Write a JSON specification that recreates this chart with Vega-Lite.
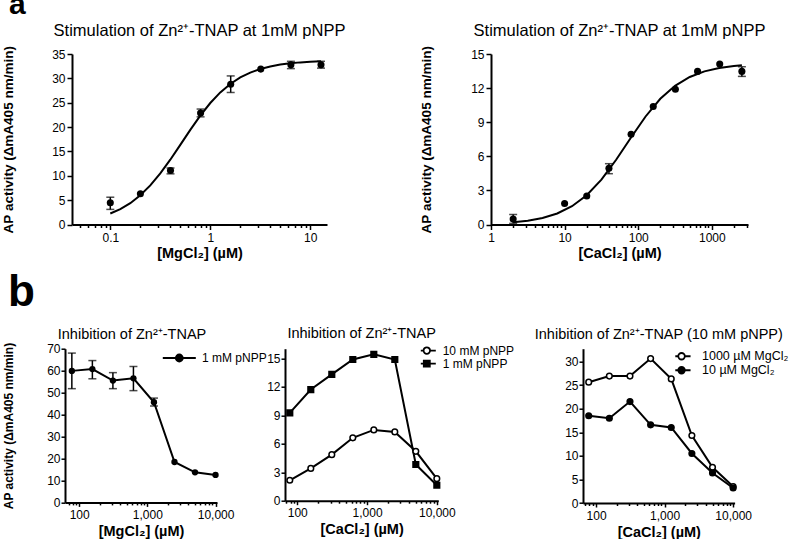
{
  "$schema": "https://vega.github.io/schema/vega-lite/v6.json",
  "background": "white",
  "padding": {"left": 0, "top": -10, "right": 0, "bottom": 0},
  "config": {
    "font": "Liberation Sans",
    "view": {"stroke": null},
    "axis": {"domainColor": "black", "domainWidth": 2, "tickColor": "black", "tickWidth": 1.5, "tickSize": 5, "labelColor": "black", "labelFontSize": 12, "labelPadding": 2, "titleColor": "black", "titleFontSize": 14.5, "titleFontWeight": "bold", "grid": false, "labelFlush": false, "labelOverlap": false},
    "title": {"color": "black", "fontWeight": "normal"},
    "legend": {"labelColor": "black", "labelFontSize": 12}
  },
  "datasets": {
    "a1curve": [
      {"x": 0.1, "y": 2.25}, {"x": 0.1259, "y": 3.16}, {"x": 0.1585, "y": 4.38}, {"x": 0.1995, "y": 5.99},
      {"x": 0.2512, "y": 8.02}, {"x": 0.3162, "y": 10.48}, {"x": 0.3981, "y": 13.3}, {"x": 0.5012, "y": 16.35},
      {"x": 0.631, "y": 19.43}, {"x": 0.7943, "y": 22.35}, {"x": 1, "y": 24.94}, {"x": 1.259, "y": 27.11},
      {"x": 1.585, "y": 28.85}, {"x": 1.995, "y": 30.19}, {"x": 2.512, "y": 31.19}, {"x": 3.162, "y": 31.92},
      {"x": 3.981, "y": 32.45}, {"x": 5.012, "y": 32.83}, {"x": 6.31, "y": 33.09}, {"x": 7.943, "y": 33.28},
      {"x": 10, "y": 33.41}, {"x": 12.8, "y": 33.52}
    ],
    "a1pts": [
      {"x": 0.1, "y": 4.45}, {"x": 0.2, "y": 6.3}, {"x": 0.4, "y": 11.1}, {"x": 0.8, "y": 22.9},
      {"x": 1.6, "y": 28.8}, {"x": 3.2, "y": 31.9}, {"x": 6.4, "y": 32.8}, {"x": 12.8, "y": 32.8}
    ],
    "a1err": [
      {"x": 0.1, "lo": 3.1, "hi": 5.6}, {"x": 0.4, "lo": 10.4, "hi": 11.6}, {"x": 0.8, "lo": 22.1, "hi": 23.7},
      {"x": 1.6, "lo": 27.1, "hi": 30.5}, {"x": 6.4, "lo": 32.0, "hi": 33.5}, {"x": 12.8, "lo": 32.1, "hi": 33.5}
    ],
    "a2curve": [
      {"x": 2, "y": 0.196}, {"x": 3.162, "y": 0.337}, {"x": 5.012, "y": 0.576}, {"x": 7.943, "y": 0.972},
      {"x": 12.59, "y": 1.608}, {"x": 19.95, "y": 2.578}, {"x": 31.62, "y": 3.951}, {"x": 50.12, "y": 5.696},
      {"x": 79.43, "y": 7.638}, {"x": 125.9, "y": 9.503}, {"x": 199.5, "y": 11.06}, {"x": 316.2, "y": 12.2},
      {"x": 501.2, "y": 12.98}, {"x": 794.3, "y": 13.47}, {"x": 1259, "y": 13.77}, {"x": 1995, "y": 13.95},
      {"x": 2560, "y": 14.01}
    ],
    "a2pts": [
      {"x": 2, "y": 0.49}, {"x": 10, "y": 1.85}, {"x": 20, "y": 2.5}, {"x": 40, "y": 4.94}, {"x": 80, "y": 7.94},
      {"x": 160, "y": 10.38}, {"x": 320, "y": 11.9}, {"x": 640, "y": 13.47}, {"x": 1280, "y": 14.12}, {"x": 2560, "y": 13.47}
    ],
    "a2err": [
      {"x": 2, "lo": 0.1, "hi": 0.88}, {"x": 40, "lo": 4.47, "hi": 5.35}, {"x": 2560, "lo": 13.03, "hi": 13.88}
    ],
    "b1": [
      {"x": 78.125, "y": 59.9, "series": "1 mM pNPP"}, {"x": 156.25, "y": 60.7, "series": "1 mM pNPP"},
      {"x": 312.5, "y": 55.5, "series": "1 mM pNPP"}, {"x": 625, "y": 56.5, "series": "1 mM pNPP"},
      {"x": 1250, "y": 45.6, "series": "1 mM pNPP"}, {"x": 2500, "y": 18.4, "series": "1 mM pNPP"},
      {"x": 5000, "y": 13.7, "series": "1 mM pNPP"}, {"x": 10000, "y": 12.5, "series": "1 mM pNPP"}
    ],
    "b1err": [
      {"x": 78.125, "lo": 51.8, "hi": 68.0}, {"x": 156.25, "lo": 56.3, "hi": 64.6}, {"x": 312.5, "lo": 51.8, "hi": 59.1},
      {"x": 625, "lo": 50.9, "hi": 61.9}, {"x": 1250, "lo": 43.9, "hi": 47.5}
    ],
    "b2": [
      {"x": 78.125, "y": 2.15, "series": "10 mM pNPP"}, {"x": 156.25, "y": 3.4, "series": "10 mM pNPP"},
      {"x": 312.5, "y": 4.85, "series": "10 mM pNPP"}, {"x": 625, "y": 6.62, "series": "10 mM pNPP"},
      {"x": 1250, "y": 7.45, "series": "10 mM pNPP"}, {"x": 2500, "y": 7.24, "series": "10 mM pNPP"},
      {"x": 5000, "y": 5.2, "series": "10 mM pNPP"}, {"x": 10000, "y": 2.32, "series": "10 mM pNPP"},
      {"x": 78.125, "y": 9.25, "series": "1 mM pNPP"}, {"x": 156.25, "y": 11.7, "series": "1 mM pNPP"},
      {"x": 312.5, "y": 13.3, "series": "1 mM pNPP"}, {"x": 625, "y": 14.86, "series": "1 mM pNPP"},
      {"x": 1250, "y": 15.4, "series": "1 mM pNPP"}, {"x": 2500, "y": 14.86, "series": "1 mM pNPP"},
      {"x": 5000, "y": 3.81, "series": "1 mM pNPP"}, {"x": 10000, "y": 1.63, "series": "1 mM pNPP"}
    ],
    "b3": [
      {"x": 78.125, "y": 25.6, "series": "1000 µM MgCl₂"}, {"x": 156.25, "y": 26.9, "series": "1000 µM MgCl₂"},
      {"x": 312.5, "y": 26.9, "series": "1000 µM MgCl₂"}, {"x": 625, "y": 30.6, "series": "1000 µM MgCl₂"},
      {"x": 1250, "y": 26.3, "series": "1000 µM MgCl₂"}, {"x": 2500, "y": 14.3, "series": "1000 µM MgCl₂"},
      {"x": 5000, "y": 7.56, "series": "1000 µM MgCl₂"}, {"x": 10000, "y": 3.5, "series": "1000 µM MgCl₂"},
      {"x": 78.125, "y": 18.5, "series": "10 µM MgCl₂"}, {"x": 156.25, "y": 17.96, "series": "10 µM MgCl₂"},
      {"x": 312.5, "y": 21.5, "series": "10 µM MgCl₂"}, {"x": 625, "y": 16.56, "series": "10 µM MgCl₂"},
      {"x": 1250, "y": 16.0, "series": "10 µM MgCl₂"}, {"x": 2500, "y": 10.5, "series": "10 µM MgCl₂"},
      {"x": 5000, "y": 6.37, "series": "10 µM MgCl₂"}, {"x": 10000, "y": 3.18, "series": "10 µM MgCl₂"}
    ]
  },
  "bounds": "flush",
  "spacing": 294.7,
  "resolve": {"scale": {"shape": "independent", "fill": "independent"}, "legend": {"shape": "independent", "fill": "independent"}},
  "vconcat": [
    {
      "bounds": "flush",
      "spacing": 0,
      "resolve": {"scale": {"shape": "independent", "fill": "independent"}, "legend": {"shape": "independent", "fill": "independent"}},
      "hconcat": [
        {
          "width": 71.7, "height": 170.5,
          "data": {"values": []}, "mark": "point",
          "title": {"text": "a", "anchor": "start", "frame": "group", "baseline": "alphabetic", "offset": 9.6, "dx": 9, "fontSize": 30, "fontWeight": "bold"}
        },
        {
          "width": 255, "height": 170.5,
          "title": {"text": "Stimulation of Zn²⁺-TNAP at 1mM pNPP", "frame": "group", "anchor": "middle", "baseline": "alphabetic", "offset": -7, "fontSize": 16.5},
          "resolve": {"axis": {"x": "independent"}},
          "layer": [
            {
              "data": {"name": "a1curve"},
              "mark": {"type": "line", "color": "black", "strokeWidth": 2},
              "encoding": {
                "x": {"field": "x", "type": "quantitative", "scale": {"type": "log", "domain": [0.0414, 14.7], "nice": false},
                      "axis": {"values": [0.1, 1, 10], "format": "~g", "title": "[MgCl₂] (µM)", "titlePadding": 3, "labelPadding": 3}},
                "y": {"field": "y", "type": "quantitative", "scale": {"domain": [0, 35], "nice": false, "zero": false},
                      "axis": {"values": [0, 5, 10, 15, 20, 25, 30, 35], "title": "AP activity (ΔmA405 nm/min)", "titleFontSize": 13.5, "titlePadding": 36, "labelOverlap": false}}
              }
            },
            {
              "data": {"name": "a1err"},
              "mark": {"type": "errorbar", "ticks": {"size": 8, "thickness": 1.5, "color": "black"}, "rule": {"strokeWidth": 1.5, "color": "black"}},
              "encoding": {
                "x": {"field": "x", "type": "quantitative", "axis": null},
                "y": {"field": "lo", "type": "quantitative", "title": "AP activity (ΔmA405 nm/min)",
                      "axis": {"values": [0, 5, 10, 15, 20, 25, 30, 35], "title": "AP activity (ΔmA405 nm/min)", "titleFontSize": 13.5, "titlePadding": 36, "labelOverlap": false}},
                "y2": {"field": "hi"}
              }
            },
            {
              "data": {"name": "a1pts"},
              "mark": {"type": "point", "filled": true, "color": "black", "size": 50, "opacity": 1},
              "encoding": {
                "x": {"field": "x", "type": "quantitative",
                      "axis": {"orient": "bottom", "values": [0.05, 0.06, 0.07, 0.08, 0.09, 0.2, 0.3, 0.4, 0.5, 0.6, 0.7, 0.8, 0.9, 2, 3, 4, 5, 6, 7, 8, 9], "labels": false, "domain": false, "tickSize": 3, "title": null}},
                "y": {"field": "y", "type": "quantitative",
                      "axis": {"values": [0, 5, 10, 15, 20, 25, 30, 35], "title": "AP activity (ΔmA405 nm/min)", "titleFontSize": 13.5, "titlePadding": 36, "labelOverlap": false}}
              }
            }
          ]
        },
        {"width": 164, "height": 170.5, "data": {"values": []}, "mark": "point"},
        {
          "width": 257, "height": 170.5,
          "title": {"text": "Stimulation of Zn²⁺-TNAP at 1mM pNPP", "frame": "group", "anchor": "middle", "baseline": "alphabetic", "offset": -7, "fontSize": 16.5},
          "resolve": {"axis": {"x": "independent"}},
          "layer": [
            {
              "data": {"name": "a2curve"},
              "mark": {"type": "line", "color": "black", "strokeWidth": 2},
              "encoding": {
                "x": {"field": "x", "type": "quantitative", "scale": {"type": "log", "domain": [1, 3100], "nice": false},
                      "axis": {"values": [1, 10, 100, 1000], "format": "~g", "title": "[CaCl₂] (µM)", "titlePadding": 3, "labelPadding": 3}},
                "y": {"field": "y", "type": "quantitative", "scale": {"domain": [0, 15], "nice": false, "zero": false},
                      "axis": {"values": [0, 3, 6, 9, 12, 15], "title": "AP activity (ΔmA405 nm/min)", "titleFontSize": 13.5, "titlePadding": 37, "labelOverlap": false}}
              }
            },
            {
              "data": {"name": "a2err"},
              "mark": {"type": "errorbar", "ticks": {"size": 8, "thickness": 1.5, "color": "black"}, "rule": {"strokeWidth": 1.5, "color": "black"}},
              "encoding": {
                "x": {"field": "x", "type": "quantitative", "axis": null},
                "y": {"field": "lo", "type": "quantitative", "title": "AP activity (ΔmA405 nm/min)",
                      "axis": {"values": [0, 3, 6, 9, 12, 15], "title": "AP activity (ΔmA405 nm/min)", "titleFontSize": 13.5, "titlePadding": 37, "labelOverlap": false}},
                "y2": {"field": "hi"}
              }
            },
            {
              "data": {"name": "a2pts"},
              "mark": {"type": "point", "filled": true, "color": "black", "size": 50, "opacity": 1},
              "encoding": {
                "x": {"field": "x", "type": "quantitative",
                      "axis": {"orient": "bottom", "values": [2, 3, 4, 5, 6, 7, 8, 9, 20, 30, 40, 50, 60, 70, 80, 90, 200, 300, 400, 500, 600, 700, 800, 900, 2000, 3000], "labels": false, "domain": false, "tickSize": 3, "title": null}},
                "y": {"field": "y", "type": "quantitative",
                      "axis": {"values": [0, 3, 6, 9, 12, 15], "title": "AP activity (ΔmA405 nm/min)", "titleFontSize": 13.5, "titlePadding": 37, "labelOverlap": false}}
              }
            }
          ]
        }
      ]
    },
    {
      "bounds": "flush",
      "spacing": 0,
      "resolve": {"scale": {"shape": "independent", "fill": "independent"}, "legend": {"shape": "independent", "fill": "independent"}},
      "hconcat": [
        {
          "width": 65, "height": 150,
          "data": {"values": []}, "mark": "point",
          "title": {"text": "b", "anchor": "start", "frame": "group", "baseline": "alphabetic", "offset": -1, "dx": 8, "fontSize": 44, "fontWeight": "bold"}
        },
        {
          "width": 152, "height": 153.7,
          "title": {"text": "Inhibition of Zn²⁺-TNAP", "frame": "group", "anchor": "middle", "baseline": "alphabetic", "offset": -11, "dx": -9, "fontSize": 14.5},
          "resolve": {"axis": {"x": "independent"}, "scale": {"shape": "independent", "fill": "independent"}, "legend": {"shape": "independent", "fill": "independent"}},
          "layer": [
            {
              "data": {"name": "b1"},
              "mark": {"type": "line", "color": "black", "strokeWidth": 2},
              "encoding": {
                "x": {"field": "x", "type": "quantitative", "scale": {"type": "log", "domain": [62, 10500], "nice": false},
                      "axis": {"values": [100, 1000, 10000], "format": ",", "title": "[MgCl₂] (µM)", "titlePadding": 4, "labelPadding": 3, "tickSize": 4}},
                "y": {"field": "y", "type": "quantitative", "scale": {"domain": [0, 70], "nice": false, "zero": false},
                      "axis": {"values": [0, 10, 20, 30, 40, 50, 60, 70], "title": "AP activity (ΔmA405 nm/min)", "titleFontSize": 12, "titlePadding": 31, "tickSize": 4, "labelPadding": 1, "labelOverlap": false}}
              }
            },
            {
              "data": {"name": "b1err"},
              "mark": {"type": "errorbar", "ticks": {"size": 8, "thickness": 1.5, "color": "black"}, "rule": {"strokeWidth": 1.5, "color": "black"}},
              "encoding": {
                "x": {"field": "x", "type": "quantitative", "axis": null},
                "y": {"field": "lo", "type": "quantitative", "title": "AP activity (ΔmA405 nm/min)",
                      "axis": {"values": [0, 10, 20, 30, 40, 50, 60, 70], "title": "AP activity (ΔmA405 nm/min)", "titleFontSize": 12, "titlePadding": 31, "tickSize": 4, "labelPadding": 1, "labelOverlap": false}},
                "y2": {"field": "hi"}
              }
            },
            {
              "data": {"name": "b1"},
              "mark": {"type": "point", "filled": true, "color": "black", "size": 40, "opacity": 1},
              "encoding": {
                "x": {"field": "x", "type": "quantitative",
                      "axis": {"orient": "bottom", "values": [70, 80, 90, 200, 300, 400, 500, 600, 700, 800, 900, 2000, 3000, 4000, 5000, 6000, 7000, 8000, 9000], "labels": false, "domain": false, "tickSize": 2.5, "title": null}},
                "y": {"field": "y", "type": "quantitative",
                      "axis": {"values": [0, 10, 20, 30, 40, 50, 60, 70], "title": "AP activity (ΔmA405 nm/min)", "titleFontSize": 12, "titlePadding": 31, "tickSize": 4, "labelPadding": 1, "labelOverlap": false}}
              }
            },
            {
              "data": {"name": "b1"},
              "mark": {"type": "point", "filled": true, "stroke": "black", "opacity": 0},
              "encoding": {
                "x": {"field": "x", "type": "quantitative", "axis": null},
                "y": {"field": "y", "type": "quantitative",
                      "axis": {"values": [0, 10, 20, 30, 40, 50, 60, 70], "title": "AP activity (ΔmA405 nm/min)", "titleFontSize": 12, "titlePadding": 31, "tickSize": 4, "labelPadding": 1, "labelOverlap": false}},
                "shape": {"field": "series", "type": "nominal", "scale": {"domain": ["1 mM pNPP"], "range": ["M-3.3,0H3.3M0.7,0A0.7,0.7,0,1,1,-0.7,0A0.7,0.7,0,1,1,0.7,0Z"]},
                          "legend": {"orient": "none", "legendX": 108.3, "legendY": 3.3, "title": null, "labelOffset": 16.7, "symbolSize": 100, "symbolOpacity": 1, "symbolStrokeWidth": 1.8, "rowPadding": 0, "padding": 0}},
                "fill": {"field": "series", "type": "nominal", "scale": {"domain": ["1 mM pNPP"], "range": ["black"]},
                         "legend": {"orient": "none", "legendX": 108.3, "legendY": 3.3, "title": null, "labelOffset": 16.7, "symbolSize": 100, "symbolOpacity": 1, "symbolStrokeWidth": 1.8, "rowPadding": 0, "padding": 0}}
              }
            }
          ]
        },
        {"width": 68, "height": 150, "data": {"values": []}, "mark": "point"},
        {
          "width": 153.3, "height": 152,
          "title": {"text": "Inhibition of Zn²⁺-TNAP", "frame": "group", "anchor": "middle", "baseline": "alphabetic", "offset": -8, "fontSize": 14.5},
          "data": {"name": "b2"},
          "resolve": {"axis": {"x": "independent"}, "scale": {"shape": "independent", "fill": "independent"}, "legend": {"shape": "independent", "fill": "independent"}},
          "layer": [
            {
              "mark": {"type": "line", "color": "black", "strokeWidth": 2},
              "encoding": {
                "x": {"field": "x", "type": "quantitative", "scale": {"type": "log", "domain": [66.7, 10500], "nice": false},
                      "axis": {"values": [100, 1000, 10000], "format": ",", "title": "[CaCl₂] (µM)", "titlePadding": 4, "labelPadding": 3, "tickSize": 4}},
                "y": {"field": "y", "type": "quantitative", "scale": {"domain": [0, 16], "nice": false, "zero": false},
                      "axis": {"values": [0, 3, 6, 9, 12, 15], "title": null, "tickSize": 4, "labelPadding": 1, "labelOverlap": false}},
                "detail": {"field": "series"}
              }
            },
            {
              "mark": {"type": "point", "filled": true, "stroke": "black", "strokeWidth": 1.5, "size": 32, "opacity": 1},
              "encoding": {
                "x": {"field": "x", "type": "quantitative",
                      "axis": {"orient": "bottom", "values": [70, 80, 90, 200, 300, 400, 500, 600, 700, 800, 900, 2000, 3000, 4000, 5000, 6000, 7000, 8000, 9000], "labels": false, "domain": false, "tickSize": 2.5, "title": null}},
                "y": {"field": "y", "type": "quantitative",
                      "axis": {"values": [0, 3, 6, 9, 12, 15], "title": null, "tickSize": 4, "labelPadding": 1, "labelOverlap": false}},
                "shape": {"field": "series", "type": "nominal", "scale": {"domain": ["10 mM pNPP", "1 mM pNPP"], "range": ["circle", "square"]}, "legend": null},
                "fill": {"field": "series", "type": "nominal", "scale": {"domain": ["10 mM pNPP", "1 mM pNPP"], "range": ["white", "black"]}, "legend": null}
              }
            },
            {
              "mark": {"type": "point", "filled": true, "stroke": "black", "opacity": 0},
              "encoding": {
                "x": {"field": "x", "type": "quantitative", "axis": null},
                "y": {"field": "y", "type": "quantitative",
                      "axis": {"values": [0, 3, 6, 9, 12, 15], "title": null, "tickSize": 4, "labelPadding": 1, "labelOverlap": false}},
                "shape": {"field": "series", "type": "nominal", "scale": {"domain": ["10 mM pNPP", "1 mM pNPP"], "range": ["M-1.8,0H-0.65M0.65,0H1.8M0.65,0A0.65,0.65,0,1,1,-0.65,0A0.65,0.65,0,1,1,0.65,0Z", "M-1.8,0H1.8M-0.6,-0.6H0.6V0.6H-0.6Z"]},
                          "legend": {"orient": "none", "legendX": 135.8, "legendY": -4, "title": null, "labelOffset": 9.9, "symbolSize": 100, "symbolOpacity": 1, "symbolStrokeWidth": 1.8, "rowPadding": 0, "clipHeight": 11.7, "padding": 0}},
                "fill": {"field": "series", "type": "nominal", "scale": {"domain": ["10 mM pNPP", "1 mM pNPP"], "range": ["white", "black"]},
                         "legend": {"orient": "none", "legendX": 135.8, "legendY": -4, "title": null, "labelOffset": 9.9, "symbolSize": 100, "symbolOpacity": 1, "symbolStrokeWidth": 1.8, "rowPadding": 0, "clipHeight": 11.7, "padding": 0}}
              }
            }
          ]
        },
        {"width": 143.4, "height": 150, "data": {"values": []}, "mark": "point"},
        {
          "width": 151.6, "height": 154.3,
          "title": {"text": "Inhibition of Zn²⁺-TNAP (10 mM pNPP)", "frame": "group", "anchor": "middle", "baseline": "alphabetic", "offset": -5, "fontSize": 14.5},
          "data": {"name": "b3"},
          "resolve": {"axis": {"x": "independent"}, "scale": {"shape": "independent", "fill": "independent"}, "legend": {"shape": "independent", "fill": "independent"}},
          "layer": [
            {
              "mark": {"type": "line", "color": "black", "strokeWidth": 2},
              "encoding": {
                "x": {"field": "x", "type": "quantitative", "scale": {"type": "log", "domain": [64.5, 10500], "nice": false},
                      "axis": {"values": [100, 1000, 10000], "format": ",", "title": "[CaCl₂] (µM)", "titlePadding": 4, "labelPadding": 3, "tickSize": 4}},
                "y": {"field": "y", "type": "quantitative", "scale": {"domain": [0, 32.7], "nice": false, "zero": false},
                      "axis": {"values": [0, 5, 10, 15, 20, 25, 30], "title": null, "tickSize": 4, "labelPadding": 1, "labelOverlap": false}},
                "detail": {"field": "series"}
              }
            },
            {
              "mark": {"type": "point", "filled": true, "stroke": "black", "strokeWidth": 1.5, "size": 32, "opacity": 1},
              "encoding": {
                "x": {"field": "x", "type": "quantitative",
                      "axis": {"orient": "bottom", "values": [70, 80, 90, 200, 300, 400, 500, 600, 700, 800, 900, 2000, 3000, 4000, 5000, 6000, 7000, 8000, 9000], "labels": false, "domain": false, "tickSize": 2.5, "title": null}},
                "y": {"field": "y", "type": "quantitative",
                      "axis": {"values": [0, 5, 10, 15, 20, 25, 30], "title": null, "tickSize": 4, "labelPadding": 1, "labelOverlap": false}},
                "fill": {"field": "series", "type": "nominal", "scale": {"domain": ["1000 µM MgCl₂", "10 µM MgCl₂"], "range": ["white", "black"]}, "legend": null}
              }
            },
            {
              "mark": {"type": "point", "filled": true, "stroke": "black", "opacity": 0},
              "encoding": {
                "x": {"field": "x", "type": "quantitative", "axis": null},
                "y": {"field": "y", "type": "quantitative",
                      "axis": {"values": [0, 5, 10, 15, 20, 25, 30], "title": null, "tickSize": 4, "labelPadding": 1, "labelOverlap": false}},
                "shape": {"field": "series", "type": "nominal", "scale": {"domain": ["1000 µM MgCl₂", "10 µM MgCl₂"], "range": ["M-1.8,0H-0.65M0.65,0H1.8M0.65,0A0.65,0.65,0,1,1,-0.65,0A0.65,0.65,0,1,1,0.65,0Z", "M-1.8,0H1.8M0.65,0A0.65,0.65,0,1,1,-0.65,0A0.65,0.65,0,1,1,0.65,0Z"]},
                          "legend": {"orient": "none", "legendX": 92.3, "legendY": 1.7, "title": null, "labelOffset": 14.2, "labelFontSize": 12.5, "symbolSize": 100, "symbolOpacity": 1, "symbolStrokeWidth": 1.8, "rowPadding": 0, "clipHeight": 11.7, "padding": 0}},
                "fill": {"field": "series", "type": "nominal", "scale": {"domain": ["1000 µM MgCl₂", "10 µM MgCl₂"], "range": ["white", "black"]},
                         "legend": {"orient": "none", "legendX": 92.3, "legendY": 1.7, "title": null, "labelOffset": 14.2, "labelFontSize": 12.5, "symbolSize": 100, "symbolOpacity": 1, "symbolStrokeWidth": 1.8, "rowPadding": 0, "clipHeight": 11.7, "padding": 0}}
              }
            }
          ]
        }
      ]
    }
  ]
}
